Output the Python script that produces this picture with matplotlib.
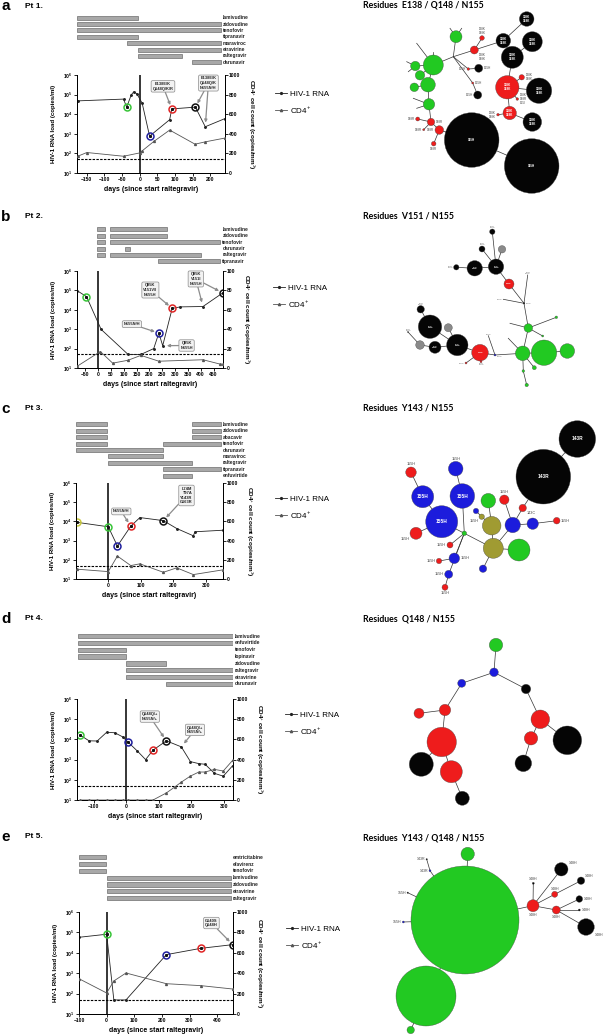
import matplotlib
matplotlib.use("Agg")
import matplotlib.pyplot as plt
from matplotlib.patches import Circle
from matplotlib.lines import Line2D

W, H = 603, 1035

plt.rcParams['font.family'] = ['Liberation Sans', 'DejaVu Sans']
plt.rcParams['mathtext.fontset'] = 'custom'
plt.rcParams['mathtext.rm'] = 'Liberation Sans'
plt.rcParams['mathtext.bf'] = 'Liberation Sans:bold'
plt.rcParams['axes.linewidth'] = 0.7

# ---------------- Pt 1 ----------------
pt1_drugs = ['lamivudine', 'zidovudine', 'tenofovir', 'tipranavir',
             'maraviroc', 'etravirine', 'raltegravir', 'darunavir']
pt1_spans = [[(-177, -5)], [(-177, 230)], [(-177, 230)], [(-177, -5)],
             [(-37, 230)], [(-4, 230)], [(-4, 120)], [(148, 230)]]
pt1_rna_days = [-176, -46, -37, -24, -17, -8, 7, 28, 85, 91, 158, 186, 241]
pt1_rna_log = [4.68, 4.77, 4.36, 4.99, 5.14, 5.04, 4.56, 2.88, 3.72, 4.27, 4.36, 3.36, 3.77]
pt1_cd4_days = [-176, -150, -46, 0, 7, 40, 85, 157, 186, 241]
pt1_cd4 = [171, 209, 171, 205, 226, 322, 438, 294, 318, 356]
pt1_marked = [2, 7, 9, 10]
pt1_marked_cols = ['green', 'blue', 'red', 'black']
pt1_notes = [("E138E/K\nQ148Q/K/R", 66, 5.42, [9]),
             ("E138E/K\nQ148Q/K\nN155N/H", 195, 5.59, [10, 11])]

# ---------------- Pt 2 ----------------
pt2_drugs = ['lamivudine', 'zidovudine', 'tenofovir', 'darunavir', 'raltegravir', 'tipranavir']
pt2_spans = [[(-4, 29), (45, 268)], [(-4, 29), (45, 268)], [(-4, 29), (45, 476)],
             [(-4, 29), (106, 126)], [(-4, 29), (45, 401)], [(232, 476)]]
pt2_rna_days = [-82, -45, 12, 117, 167, 217, 237, 252, 289, 320, 409, 486]
pt2_rna_log = [4.99, 4.68, 2.99, 1.70, 1.70, 2.00, 2.80, 2.15, 4.07, 4.15, 4.17, 4.87]
pt2_cd4_days = [-82, 9, 57, 117, 167, 237, 409, 476, 486]
pt2_cd4 = [1.7, 17, 5, 8, 13, 7, 8.5, 4, 4]
pt2_marked = [1, 6, 8, 11]
pt2_marked_cols = ['green', 'blue', 'red', 'black']
pt2_notes = [("N155N/H", 132, 3.26, [6]),
             ("Q95K\nV151V/I\nN155H", 204, 5.02, [8]),
             ("Q95K\nN155H", 345, 2.16, [7]),
             ("Q95K\nV151I\nN155H", 381, 5.59, [11, 10])]

# ---------------- Pt 3 ----------------
pt3_drugs = ['lamivudine', 'zidovudine', 'abacavir', 'tenofovir', 'darunavir',
             'maraviroc', 'raltegravir', 'tipranavir', 'enfuvirtide']
pt3_spans = [[(-99, -5), (257, 345)], [(-99, -5), (257, 345)], [(-99, -5), (257, 345)],
             [(-99, -5), (169, 345)], [(-99, 167)], [(0, 167)], [(0, 256)],
             [(167, 345)], [(167, 256)]]
pt3_rna_days = [-95, 0, 28, 69, 97, 169, 210, 261, 266, 351]
pt3_rna_log = [3.95, 3.72, 2.72, 3.75, 4.20, 4.04, 3.63, 3.25, 3.46, 3.54]
pt3_cd4_days = [-95, 0, 28, 69, 97, 169, 210, 261, 351]
pt3_cd4 = [102, 77, 239, 140, 158, 70, 116, 46, 95]
pt3_marked = [0, 1, 2, 3, 5]
pt3_marked_cols = ['yellow', 'green', 'blue', 'red', 'black']
pt3_notes = [("N155N/H", 40, 4.52, [3]),
             ("L74M\nT97A\nY143R\nG163R", 240, 5.35, [5])]

# ---------------- Pt 4 ----------------
pt4_drugs = ['lamivudine', 'enfuvirtide', 'tenofovir', 'lopinavir',
             'zidovudine', 'raltegravir', 'etravirine', 'darunavir']
pt4_spans = [[(-149, 327)], [(-149, 327)], [(-149, -2)], [(-149, -2)],
             [(0, 123)], [(0, 327)], [(0, 327)], [(123, 327)]]
pt4_rna_days = [-143, -115, -90, -61, -36, -12, 6, 34, 59, 82, 123, 169, 197, 223, 242, 271, 298, 327]
pt4_rna_log = [4.22, 3.93, 3.92, 4.35, 4.33, 4.13, 3.85, 3.42, 3.00, 3.47, 3.93, 3.63,
               2.90, 2.80, 2.77, 2.32, 2.18, 2.70]
pt4_cd4_days = [-143, -115, -90, -61, -36, -12, 6, 34, 59, 82, 123, 148, 169, 197, 223, 242, 271, 298, 327]
pt4_cd4 = [0, 0, 0, 0, 0, 0, 0, 0, 0, 0, 70, 127, 177, 237, 277, 277, 303, 287, 393]
pt4_marked = [0, 6, 9, 10]
pt4_marked_cols = ['green', 'blue', 'red', 'black']
pt4_notes = [("Q148Q/+\nN155N/+", 72, 5.13, [10]),
             ("Q148Q/+\nN155N/+", 211, 4.47, [11])]

# ---------------- Pt 5 ----------------
pt5_drugs = ['emtricitabine', 'efavirenz', 'tenofovir', 'lamivudine',
             'zidovudine', 'etravirine', 'raltegravir']
pt5_spans = [[(-100, -2)], [(-100, -2)], [(-100, -2)], [(0, 448)],
             [(0, 448)], [(0, 448)], [(0, 448)]]
pt5_rna_days = [-100, 0, 26, 70, 216, 341, 456]
pt5_rna_log = [4.76, 4.91, 1.69, 1.69, 3.91, 4.22, 4.40]
pt5_cd4_days = [-100, 0, 26, 70, 216, 341, 456]
pt5_cd4 = [346, 206, 324, 402, 297, 278, 245]
pt5_marked = [1, 4, 5, 6]
pt5_marked_cols = ['green', 'blue', 'red', 'black']
pt5_notes = [("G140S\nQ148H", 379, 5.46, [6])]

# ---------------- networks: (x, y, radius, kind, label, label side) in image pixels ----------------
net1_title = "Residues  E138 / Q148 / N155"
net1_nodes = [
    (471.7, 140, 27.3, 'k', '155H', 'in'), (531.7, 166, 27.3, 'k', '155H', 'in'),
    (526.7, 19, 7.3, 'k', '138K\n148K', 'in'), (503.3, 40.7, 7.3, 'k', '138K\n148K', 'in'),
    (532.3, 41.7, 10, 'k', '138K\n148K', 'in'), (512.3, 57.3, 11, 'k', '138K\n148K', 'in'),
    (539, 90.7, 12.7, 'k', '138K\n148K', 'in'), (532.3, 122, 9.3, 'k', '138K\n148K', 'in'),
    (507.3, 87.3, 11.7, 'r', '138K\n148K', 'in'), (509.7, 113, 6.7, 'r', '138K\n148K', 'in'),
    (478.7, 68.3, 4, 'k', '155H', 'r'), (477.7, 95, 4, 'k', '155H', 'l'),
    (482, 38, 2.3, 'r', '138K\n148K', 'a'), (474.3, 50, 4, 'r', '138K\n148K', 'br'),
    (521.7, 77.3, 2.7, 'r', '138K\n148K', 'r'), (517.3, 99, 1.3, 'r', '138K\n148R\n155I', 'r'),
    (498, 114.7, 1.3, 'r', '138K\n148K', 'l'), (472.7, 83, 1, 'r', '155H', 'r'),
    (468.3, 69, 1.3, 'r', '155H', 'l'),
    (456, 36.7, 6, 'g', '', ''), (433.3, 65, 10, 'g', '', ''), (415.3, 66, 4.7, 'g', '', ''),
    (420, 75.3, 4.7, 'g', '', ''), (428, 84.7, 7.3, 'g', '', ''), (414.3, 87.3, 4.3, 'g', '', ''),
    (429, 104.3, 5.7, 'g', '', ''),
    (431, 122, 3.7, 'r', '148R', 'r'), (439.3, 130, 4.3, 'r', '148R', 'l'),
    (417.7, 119, 2, 'r', '148R', 'l'), (433.7, 143.7, 2.3, 'r', '148R', 'b'),
    (423.7, 129.7, 1, 'r', '148R', 'l'),
    (453.3, 56.7, 0, 'k', '', ''), (406.7, 61.7, 0, 'k', '', ''), (408.3, 71.7, 0, 'k', '', ''),
    (416.7, 43.3, 0, 'k', '', ''), (433.3, 52.3, 0, 'k', '', ''), (413.3, 98.3, 0, 'k', '', ''),
    (416.7, 108.3, 0, 'k', '', ''), (450, 28.3, 0, 'k', '', ''), (461.7, 28.3, 0, 'k', '', ''),
]
net1_edges = [(0, 1), (27, 0), (26, 27), (26, 25), (26, 28), (26, 30), (27, 29), (25, 23),
              (23, 20), (23, 24), (20, 22), (20, 21), (20, 31), (31, 19), (31, 13), (13, 12),
              (13, 3), (3, 2), (31, 18), (18, 10), (31, 17), (17, 11), (3, 5), (5, 4), (5, 8),
              (8, 6), (8, 14), (8, 9), (8, 15), (9, 7), (9, 16), (21, 32), (21, 33), (20, 34),
              (20, 35), (25, 36), (25, 37), (19, 38), (19, 39)]

net2_title = "Residues  V151 / N155"
net2_nodes = [
    (492.3, 231.7, 2.7, 'k', '151I\n155H', 'a'), (502, 249.3, 3.7, 'h', '', ''),
    (482, 249, 3, 'k', '151I\n155H', 'a'), (496, 266.7, 7.7, 'k', '151I\n155H', 'in'),
    (474.7, 268.3, 7.7, 'k', '151I\n155H', 'in'), (456.3, 267.3, 2.7, 'k', '151I\n155H', 'l'),
    (509, 284, 5, 'r', '155H', 'in'), (524, 303.3, 0.8, 'k', '155H', 'r'),
    (528.3, 328, 4.3, 'g', '', ''), (522.7, 353.3, 7.3, 'g', '', ''),
    (544, 352.7, 12.7, 'g', '', ''), (567.3, 351, 7.3, 'g', '', ''),
    (556.3, 317.3, 1.3, 'g', '', ''), (542.7, 336, 1, 'g', '', ''),
    (534.3, 367.7, 2, 'g', '', ''), (523.3, 371, 1.3, 'g', '', ''),
    (526.7, 385, 1.7, 'g', '', ''), (495, 355, 1, 'b', '155H', 'br'),
    (480, 352.7, 8.3, 'r', '155H', 'in'), (457.3, 345, 10.7, 'k', '151I\n155H', 'in'),
    (430, 326.7, 11.7, 'k', '151I\n155H', 'in'), (435, 347.3, 6, 'k', '151I\n155H', 'in'),
    (420, 345, 4.3, 'h', '', ''), (448.3, 327.7, 4, 'h', '', ''),
    (420.7, 309.3, 3.7, 'k', '151I\n155H', 'a'), (481, 361.7, 1, 'r', '151I\n155H', 'b'),
    (527.7, 275, 0, 'k', '151I\n155H', 'a'), (503.3, 299.3, 0, 'k', '155H', 'l'),
    (510, 323.3, 0, 'k', '', ''), (508.3, 338.3, 0, 'k', '', ''),
    (488.3, 335.7, 0, 'k', '155H', 'a'), (466, 363, 1, 'r', '155H', 'l'),
    (408, 332, 0.5, 'k', '151I\n155H', 'a'),
]
net2_edges = [(0, 3), (1, 3), (2, 3), (4, 3), (5, 4), (3, 6), (6, 7), (7, 26), (7, 27), (7, 8),
              (8, 9), (9, 10), (10, 11), (8, 12), (8, 13), (9, 14), (9, 15), (15, 16), (9, 17),
              (17, 18), (17, 30), (18, 19), (19, 20), (19, 23), (19, 21), (21, 22), (20, 24),
              (18, 25), (8, 28), (9, 29), (18, 31), (22, 32)]

net3_title = "Residues  Y143 / N155"
net3_nodes = [
    (543.3, 476.7, 27.3, 'k', '143R', 'in'), (577.3, 439, 18.3, 'k', '143R', 'in'),
    (441.7, 521.7, 16, 'b', '155H', 'in'), (422.7, 496.7, 11, 'b', '155H', 'in'),
    (462.3, 496, 12.3, 'b', '155H', 'in'), (455.7, 468.7, 7.3, 'b', '155H', 'a'),
    (411, 472.3, 5.3, 'r', '155H', 'a'), (416, 533.3, 6, 'r', '155H', 'bl'),
    (464.3, 533.3, 2.3, 'g', '', ''), (491.7, 525.7, 9.3, 'o', '', ''),
    (493.3, 548.3, 10, 'o', '', ''), (481.7, 516.7, 2.7, 'o', '155H', 'bl'),
    (476, 511, 2.7, 'b', '', ''), (488.3, 500.7, 7.3, 'g', '', ''),
    (519, 550, 11, 'g', '', ''), (512.7, 525, 7.7, 'b', '', ''),
    (532.7, 523.7, 5.7, 'b', '', ''), (556.7, 520.7, 3.3, 'r', '155H', 'r'),
    (504.3, 499.7, 4.7, 'r', '155H', 'a'), (522.7, 508, 3.7, 'r', '143C', 'br'),
    (450, 545, 3, 'r', '155H', 'l'), (454.3, 558.3, 5.3, 'b', '155H', 'r'),
    (439, 561, 2.7, 'r', '155H', 'l'), (448.7, 574.3, 4, 'b', '155H', 'l'),
    (445, 587.3, 3, 'r', '155H', 'b'), (483, 568.7, 3.7, 'b', '', ''),
]
net3_edges = [(0, 1), (0, 19), (19, 15), (18, 15), (15, 16), (16, 17), (15, 10), (10, 14),
              (10, 9), (9, 13), (9, 11), (11, 12), (10, 25), (10, 8), (8, 2), (2, 3), (3, 6),
              (2, 7), (8, 4), (4, 5), (8, 20), (8, 21), (21, 22), (8, 23), (23, 24)]

net4_title = "Residues  Q148 / N155"
net4_nodes = [
    (496, 645, 6.7, 'g', '', ''), (494, 672.3, 4.3, 'b', '', ''), (461.7, 683.3, 4, 'b', '', ''),
    (526, 689, 4.7, 'k', '', ''), (445, 710, 5.7, 'r', '', ''), (419, 713.3, 5, 'r', '', ''),
    (441.7, 742, 14.7, 'r', '', ''), (421.3, 764.3, 12, 'k', '', ''), (451.3, 771.7, 11, 'r', '', ''),
    (462.3, 798.3, 7, 'k', '', ''), (540.3, 719.3, 9.3, 'r', '', ''), (531, 738.3, 6.7, 'r', '', ''),
    (567.3, 740.3, 14.3, 'k', '', ''), (523.3, 763.3, 8.3, 'k', '', ''),
]
net4_edges = [(0, 1), (1, 2), (1, 3), (2, 4), (4, 5), (4, 6), (6, 7), (6, 8), (8, 9),
              (3, 10), (10, 12), (10, 11), (11, 13)]

net5_title = "Residues  Y143 / Q148 / N155"
net5_nodes = [
    (465, 920, 54, 'g', '', ''), (426, 996, 30, 'g', '', ''), (467.7, 854, 6.7, 'g', '', ''),
    (410.7, 1030, 3.7, 'g', '', ''), (533, 905.7, 6, 'r', '148H', 'b'),
    (561.3, 869.3, 6.7, 'k', '148H', 'tr'), (581, 880.7, 3.7, 'k', '148H', 'tr'),
    (554.7, 894.3, 3, 'r', '148H', 'a'), (579.3, 899, 3.3, 'k', '148H', 'r'),
    (556.3, 910, 4, 'r', '148H', 'b'), (579.3, 910, 1, 'k', '148H', 'r'),
    (586, 927, 8.3, 'k', '148H', 'br'), (533.3, 883.3, 1, 'k', '148H', 'a'),
    (430, 870.7, 1, 'b', '143R', 'l'), (403.3, 922, 1, 'b', '155H', 'l'),
    (407.7, 892.7, 0.7, 'k', '155H', 'l'), (426.7, 859.3, 0.7, 'k', '143R', 'l'),
]
net5_edges = [(0, 4), (0, 2), (0, 1), (1, 3), (4, 12), (4, 5), (4, 7), (7, 6), (4, 9), (9, 8),
              (9, 10), (9, 11), (13, 0), (14, 0), (15, 0), (16, 13)]

RING = {'green': '#38c438', 'blue': '#1f1f9e', 'red': '#e02525', 'black': '#111111',
        'yellow': '#c9c83e'}
NODE = {'g': '#22c922', 'r': '#ee1c1c', 'b': '#1c1cdc', 'k': '#050505', 'o': '#a09b32',
        'h': '#8a8a8a'}

fig = plt.figure(figsize=(W / 100, H / 100), dpi=100)


def frac(x0, y0, x1, y1):
    return [x0 / W, 1 - y1 / H, (x1 - x0) / W, (y1 - y0) / H]


def draw_patient(main_px, drug_px, xlim, xticks, cd4_max, drugs, spans,
                 rna_days, rna_log, cd4_days, cd4, marked, marked_cols, notes, leg_xy):
    rna = [10 ** v for v in rna_log]

    # drug bars
    axd = fig.add_axes(frac(*drug_px))
    for i, segs in enumerate(spans):
        for a, b in segs:
            axd.barh(i, b - a, left=a, height=0.62, color='#a8a8a8',
                     edgecolor='#555555', linewidth=0.4)
    end = max(b for segs in spans for a, b in segs)
    for i, name in enumerate(drugs):
        axd.annotate(name, (end, i), xytext=(1.5, 0), textcoords='offset points',
                     ha='left', va='center', fontsize=3.5, fontweight='bold', color='#222222')
    axd.set_xlim(*xlim)
    axd.set_ylim(len(drugs) - 0.5, -0.5)
    axd.axis('off')

    # main plot
    ax = fig.add_axes(frac(*main_px))
    ax2 = ax.twinx()
    ax.set_yscale('log')
    ax.set_ylim(10, 1e6)
    ax.set_xlim(*xlim)
    ax2.set_ylim(0, cd4_max)
    ax.axvline(0, color='black', lw=1.1, zorder=1)
    ax.axhline(50, color='black', lw=0.8, ls=(0, (2.2, 1.2)), zorder=1)
    ax.plot(rna_days, rna, color='#222222', lw=0.6, marker='o', ms=1.1, zorder=3)
    ax2.plot(cd4_days, cd4, color='#555555', lw=0.6, marker='^', ms=1.4, zorder=3)
    for idx, c in zip(marked, marked_cols):
        ax.plot(rna_days[idx], rna[idx], marker='o', ms=5.0, mfc='none', mec=RING[c],
                mew=1.1, zorder=5)
        ax.plot(rna_days[idx], rna[idx], marker='o', ms=1.2, color='#111111', zorder=6)
    for text, tx, ty, targets in notes:
        for j, t in enumerate(targets):
            ax.annotate(text if j == 0 else '', xy=(rna_days[t], rna[t]), xytext=(tx, 10 ** ty),
                        ha='center', va='center', fontsize=2.9, fontweight='bold',
                        color='#222222', zorder=8 if j == 0 else 7,
                        bbox=dict(boxstyle='round,pad=0.35', fc='#f2f2f2', ec='#8a8a8a', lw=0.5)
                        if j == 0 else None,
                        arrowprops=dict(arrowstyle='-|>', color='#8c8c8c', lw=0.9,
                                        mutation_scale=4, shrinkA=0, shrinkB=3))

    ax.set_yticks([10 ** k for k in range(1, 7)])
    ax.set_yticklabels([r'$\mathbf{10^{%d}}$' % k for k in range(1, 7)])
    ax.minorticks_off()
    ax.set_xticks(xticks)
    ax2.set_yticks([cd4_max * k / 5 for k in range(6)])
    ax2.set_yticklabels(['%d' % (cd4_max * k / 5) for k in range(6)])
    for a in (ax, ax2):
        a.spines['top'].set_visible(False)
        a.tick_params(direction='out', length=2, width=0.6, labelsize=3.6, pad=1)
    for lab in ax.get_xticklabels() + ax2.get_yticklabels():
        lab.set_fontweight('bold')
    ax.set_xlabel('days (since start raltegravir)', fontsize=5, fontweight='bold', labelpad=3)
    ax.set_ylabel('HIV-1 RNA load (copies/ml)', fontsize=4.4, fontweight='bold', labelpad=5)
    ax2.set_ylabel(r'CD4$^{+}$ cell count (copies/mm$^{3}$)', fontsize=4.6, fontweight='bold',
                   rotation=270, labelpad=11)

    fig.legend([Line2D([], [], color='#222222', lw=0.6, marker='o', ms=1.3),
                Line2D([], [], color='#555555', lw=0.6, marker='^', ms=1.6)],
               ['HIV-1 RNA', r'CD4$^{+}$'], loc='upper left',
               bbox_to_anchor=(leg_xy[0] / W, 1 - leg_xy[1] / H), frameon=False,
               fontsize=5.8, handlelength=1.5, handletextpad=0.4, labelspacing=0.75,
               borderpad=0, borderaxespad=0)


draw_patient((77, 75, 225, 173), (77, 14.5, 225, 65.5), (-178, 242), range(-150, 201, 50), 1000,
             pt1_drugs, pt1_spans, pt1_rna_days, pt1_rna_log, pt1_cd4_days, pt1_cd4,
             pt1_marked, pt1_marked_cols, pt1_notes, (275, 90))
draw_patient((77, 271, 223, 368), (77, 226, 223, 264.6), (-82, 487), range(-50, 451, 50), 100,
             pt2_drugs, pt2_spans, pt2_rna_days, pt2_rna_log, pt2_cd4_days, pt2_cd4,
             pt2_marked, pt2_marked_cols, pt2_notes, (273, 284))
draw_patient((76, 483, 223, 579), (76, 421, 223, 479), (-99, 352), range(0, 301, 100), 1000,
             pt3_drugs, pt3_spans, pt3_rna_days, pt3_rna_log, pt3_cd4_days, pt3_cd4,
             pt3_marked, pt3_marked_cols, pt3_notes, (275, 495))
draw_patient((77, 699, 233, 800), (77, 632.6, 233, 687.4), (-152, 328), range(-100, 301, 100), 1000,
             pt4_drugs, pt4_spans, pt4_rna_days, pt4_rna_log, pt4_cd4_days, pt4_cd4,
             pt4_marked, pt4_marked_cols, pt4_notes, (285, 711))
draw_patient((79, 912, 233, 1014), (79, 854, 233, 901.5), (-100, 457), range(-100, 401, 100), 1000,
             pt5_drugs, pt5_spans, pt5_rna_days, pt5_rna_log, pt5_cd4_days, pt5_cd4,
             pt5_marked, pt5_marked_cols, pt5_notes, (286, 925))

# panel letters
for letter, pt, y in [('a', 'Pt 1.', 6), ('b', 'Pt 2.', 217), ('c', 'Pt 3.', 409),
                      ('d', 'Pt 4.', 619), ('e', 'Pt 5.', 837)]:
    fig.text(1 / W, 1 - y / H, letter, fontsize=11, fontweight='bold', va='center', ha='left')
    fig.text(25 / W, 1 - y / H, pt, fontsize=6, fontweight='bold', va='center', ha='left')

# network overlay
axn = fig.add_axes([0, 0, 1, 1])
axn.set_xlim(0, W)
axn.set_ylim(H, 0)
axn.axis('off')


def draw_net(title, title_y, nodes, edges, fin, fout):
    axn.text(363, title_y, title, fontsize=6.3, fontweight='bold', family=['Lato', 'DejaVu Sans'],
             ha='left', va='center')
    for i, j in edges:
        axn.plot([nodes[i][0], nodes[j][0]], [nodes[i][1], nodes[j][1]],
                 color='#333333', lw=0.5, zorder=1)
    for x, y, r, kind, lab, side in nodes:
        if r > 0:
            axn.add_patch(Circle((x, y), r, fc=NODE[kind], ec='#444444', lw=0.25, zorder=2))
        if not lab:
            continue
        if side == 'in':
            axn.text(x, y, lab, fontsize=fin, color='white', fontweight='bold',
                     ha='center', va='center', linespacing=0.95, zorder=3)
            continue
        dx = {'l': -r - 1, 'r': r + 1, 'a': 0, 'b': 0, 'br': r + 0.5, 'bl': -r - 0.5,
              'tr': r + 0.5}[side]
        dy = {'l': 0, 'r': 0, 'a': -r - 0.8, 'b': r + 0.8, 'br': r * 0.7, 'bl': r * 0.7,
              'tr': -r * 0.7}[side]
        ha = {'l': 'right', 'r': 'left', 'a': 'center', 'b': 'center', 'br': 'left',
              'bl': 'right', 'tr': 'left'}[side]
        va = {'l': 'center', 'r': 'center', 'a': 'bottom', 'b': 'top', 'br': 'top',
              'bl': 'top', 'tr': 'bottom'}[side]
        axn.text(x + dx, y + dy, lab, fontsize=fout, color='#444444', ha=ha, va=va,
                 linespacing=0.95, zorder=3)


draw_net(net1_title, 5, net1_nodes, net1_edges, 2.2, 2.2)
draw_net(net2_title, 216, net2_nodes, net2_edges, 1.6, 1.6)
draw_net(net3_title, 408, net3_nodes, net3_edges, 3.4, 2.7)
draw_net(net4_title, 619, net4_nodes, net4_edges, 2.5, 2.5)
draw_net(net5_title, 838, net5_nodes, net5_edges, 2.6, 2.6)

fig.savefig('out.png', dpi=100)
